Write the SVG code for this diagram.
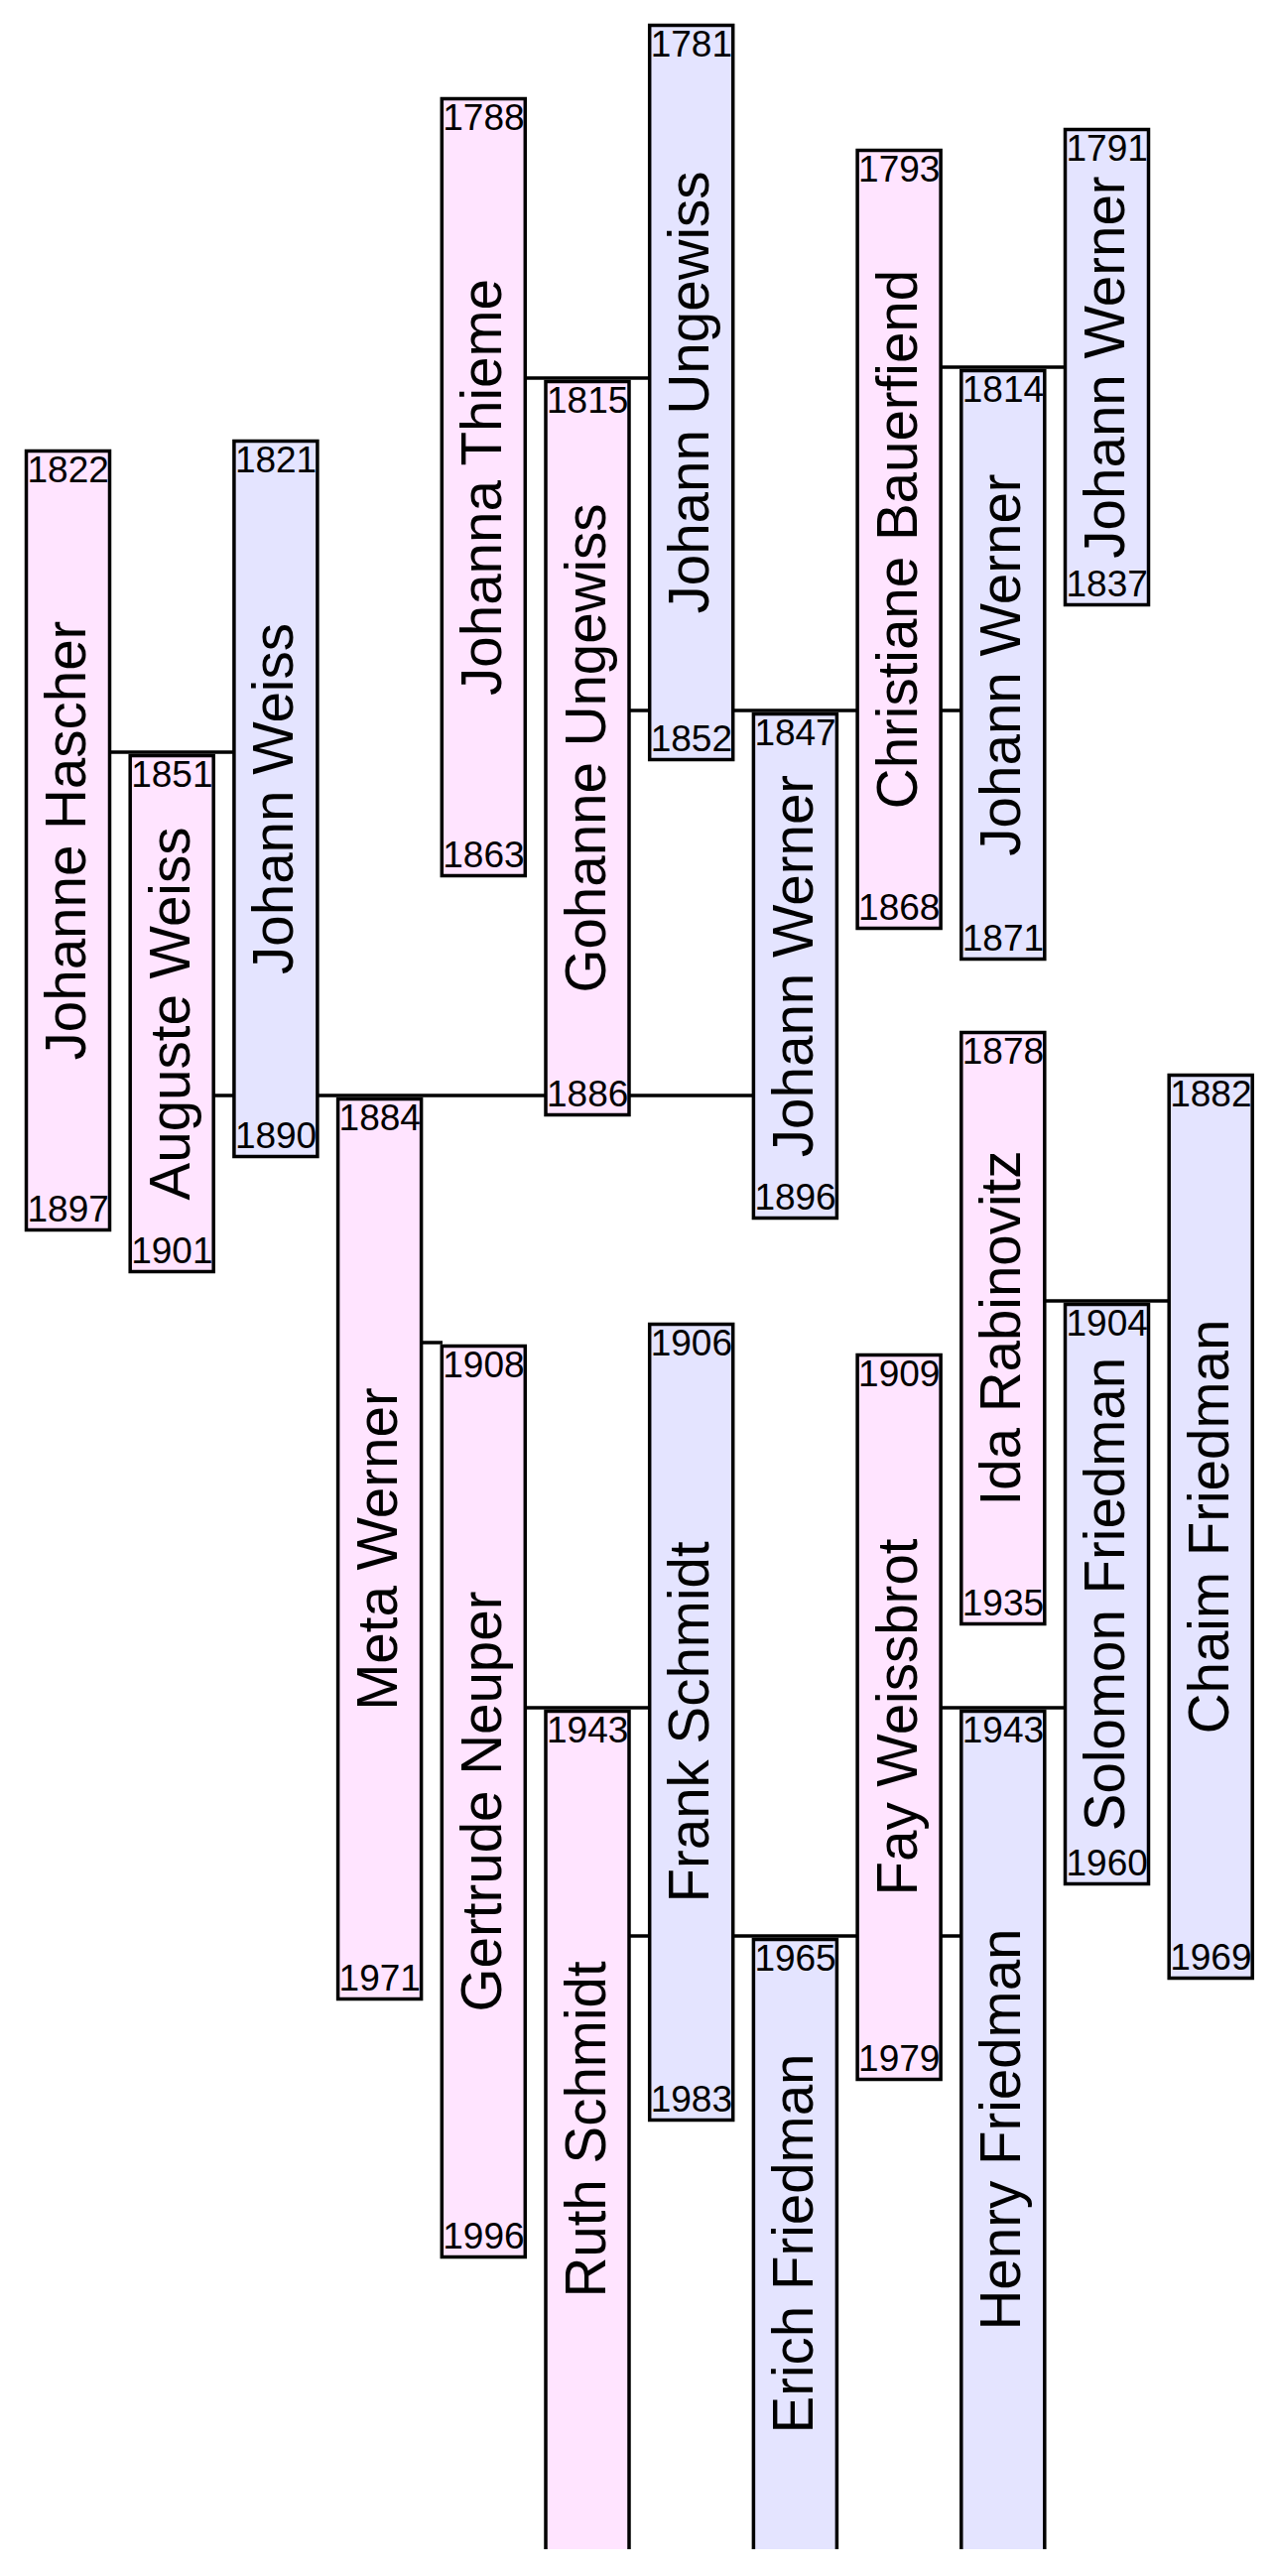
<svg xmlns="http://www.w3.org/2000/svg" width="1288" height="2596" viewBox="0 0 1288 2596">
<style>
.f{fill:#ffe4ff;stroke:#000;stroke-width:3.5}
.m{fill:#e4e4ff;stroke:#000;stroke-width:3.5}
.fo{fill:#ffe4ff;stroke:none}
.mo{fill:#e4e4ff;stroke:none}
.side{fill:none;stroke:#000;stroke-width:3.5}
.nm{font-family:"Liberation Sans",Arial,sans-serif;font-size:56.5px;fill:#000;text-anchor:middle}
.yr{font-family:"Liberation Sans",Arial,sans-serif;font-size:37px;fill:#000}
.c{stroke:#000;stroke-width:3.5;fill:none}
</style>
<rect width="1288" height="2596" fill="#fff"/>
<g id="connectors">
<line class="c" x1="110" y1="758" x2="237" y2="758"/>
<line class="c" x1="215" y1="1104" x2="760" y2="1104"/>
<line class="c" x1="424" y1="1353" x2="446" y2="1353"/>
<line class="c" x1="529" y1="381" x2="656" y2="381"/>
<line class="c" x1="634" y1="716" x2="970" y2="716"/>
<line class="c" x1="948" y1="370" x2="1075" y2="370"/>
<line class="c" x1="529" y1="1721" x2="656" y2="1721"/>
<line class="c" x1="634" y1="1951" x2="970" y2="1951"/>
<line class="c" x1="948" y1="1721" x2="1075" y2="1721"/>
<line class="c" x1="1053" y1="1311" x2="1179" y2="1311"/>
</g>
<g id="johanne-hascher">
<rect class="f" x="26.5" y="454.5" width="84" height="785"/>
<text class="nm" transform="translate(86,847) rotate(-90)">Johanne Hascher</text>
<text class="yr" x="27.5" y="486">1822</text>
<text class="yr" x="27.5" y="1231">1897</text>
</g>
<g id="auguste-weiss">
<rect class="f" x="131.2" y="761.5" width="84" height="520"/>
<text class="nm" transform="translate(190.7,1021.5) rotate(-90)">Auguste Weiss</text>
<text class="yr" x="132.2" y="793">1851</text>
<text class="yr" x="132.2" y="1273">1901</text>
</g>
<g id="johann-weiss">
<rect class="m" x="235.9" y="444.5" width="84" height="721"/>
<text class="nm" transform="translate(295.4,805) rotate(-90)">Johann Weiss</text>
<text class="yr" x="236.9" y="476">1821</text>
<text class="yr" x="236.9" y="1157">1890</text>
</g>
<g id="meta-werner">
<rect class="f" x="340.6" y="1107.5" width="84" height="907"/>
<text class="nm" transform="translate(400.1,1561) rotate(-90)">Meta Werner</text>
<text class="yr" x="341.6" y="1139">1884</text>
<text class="yr" x="341.6" y="2006">1971</text>
</g>
<g id="johanna-thieme">
<rect class="f" x="445.3" y="99.5" width="84" height="783"/>
<text class="nm" transform="translate(504.8,491) rotate(-90)">Johanna Thieme</text>
<text class="yr" x="446.3" y="131">1788</text>
<text class="yr" x="446.3" y="874">1863</text>
</g>
<g id="gertrude-neuper">
<rect class="f" x="445.3" y="1356.5" width="84" height="918"/>
<text class="nm" transform="translate(504.8,1815.5) rotate(-90)">Gertrude Neuper</text>
<text class="yr" x="446.3" y="1388">1908</text>
<text class="yr" x="446.3" y="2266">1996</text>
</g>
<g id="gohanne-ungewiss">
<rect class="f" x="550" y="384.5" width="84" height="739"/>
<text class="nm" transform="translate(609.5,754) rotate(-90)">Gohanne Ungewiss</text>
<text class="yr" x="551" y="416">1815</text>
<text class="yr" x="551" y="1115">1886</text>
</g>
<g id="ruth-schmidt">
<rect class="fo" x="550" y="1724.5" width="84" height="844.5"/>
<path class="side" d="M550,2569 V1724.5 H634 V2569"/>
<text class="nm" transform="translate(609.5,2146) rotate(-90)">Ruth Schmidt</text>
<text class="yr" x="551" y="1756">1943</text>
</g>
<g id="johann-ungewiss">
<rect class="m" x="654.7" y="25.5" width="84" height="740"/>
<text class="nm" transform="translate(714.2,395.5) rotate(-90)">Johann Ungewiss</text>
<text class="yr" x="655.7" y="57">1781</text>
<text class="yr" x="655.7" y="757">1852</text>
</g>
<g id="frank-schmidt">
<rect class="m" x="654.7" y="1334.5" width="84" height="802"/>
<text class="nm" transform="translate(714.2,1735.5) rotate(-90)">Frank Schmidt</text>
<text class="yr" x="655.7" y="1366">1906</text>
<text class="yr" x="655.7" y="2128">1983</text>
</g>
<g id="johann-werner-1847">
<rect class="m" x="759.4" y="719.5" width="84" height="508"/>
<text class="nm" transform="translate(818.9,973.5) rotate(-90)">Johann Werner</text>
<text class="yr" x="760.4" y="751">1847</text>
<text class="yr" x="760.4" y="1219">1896</text>
</g>
<g id="erich-friedman">
<rect class="mo" x="759.4" y="1954.5" width="84" height="614.5"/>
<path class="side" d="M759.4,2569 V1954.5 H843.4 V2569"/>
<text class="nm" transform="translate(818.9,2261) rotate(-90)">Erich Friedman</text>
<text class="yr" x="760.4" y="1986">1965</text>
</g>
<g id="christiane-bauerfiend">
<rect class="f" x="864.1" y="151.5" width="84" height="784"/>
<text class="nm" transform="translate(923.6,543.5) rotate(-90)">Christiane Bauerfiend</text>
<text class="yr" x="865.1" y="183">1793</text>
<text class="yr" x="865.1" y="927">1868</text>
</g>
<g id="fay-weissbrot">
<rect class="f" x="864.1" y="1365.5" width="84" height="730"/>
<text class="nm" transform="translate(923.6,1730.5) rotate(-90)">Fay Weissbrot</text>
<text class="yr" x="865.1" y="1397">1909</text>
<text class="yr" x="865.1" y="2087">1979</text>
</g>
<g id="johann-werner-1814">
<rect class="m" x="968.8" y="373.5" width="84" height="593"/>
<text class="nm" transform="translate(1028.3,670) rotate(-90)">Johann Werner</text>
<text class="yr" x="969.8" y="405">1814</text>
<text class="yr" x="969.8" y="958">1871</text>
</g>
<g id="ida-rabinovitz">
<rect class="f" x="968.8" y="1040.5" width="84" height="596"/>
<text class="nm" transform="translate(1028.3,1338.5) rotate(-90)">Ida Rabinovitz</text>
<text class="yr" x="969.8" y="1072">1878</text>
<text class="yr" x="969.8" y="1628">1935</text>
</g>
<g id="henry-friedman">
<rect class="mo" x="968.8" y="1724.5" width="84" height="844.5"/>
<path class="side" d="M968.8,2569 V1724.5 H1052.8 V2569"/>
<text class="nm" transform="translate(1028.3,2146) rotate(-90)">Henry Friedman</text>
<text class="yr" x="969.8" y="1756">1943</text>
</g>
<g id="johann-werner-1791">
<rect class="m" x="1073.5" y="130.5" width="84" height="479"/>
<text class="nm" transform="translate(1133,370) rotate(-90)">Johann Werner</text>
<text class="yr" x="1074.5" y="162">1791</text>
<text class="yr" x="1074.5" y="601">1837</text>
</g>
<g id="solomon-friedman">
<rect class="m" x="1073.5" y="1314.5" width="84" height="584"/>
<text class="nm" transform="translate(1133,1606.5) rotate(-90)">Solomon Friedman</text>
<text class="yr" x="1074.5" y="1346">1904</text>
<text class="yr" x="1074.5" y="1890">1960</text>
</g>
<g id="chaim-friedman">
<rect class="m" x="1178.2" y="1083.5" width="84" height="910"/>
<text class="nm" transform="translate(1237.7,1538.5) rotate(-90)">Chaim Friedman</text>
<text class="yr" x="1179.2" y="1115">1882</text>
<text class="yr" x="1179.2" y="1985">1969</text>
</g>
</svg>
